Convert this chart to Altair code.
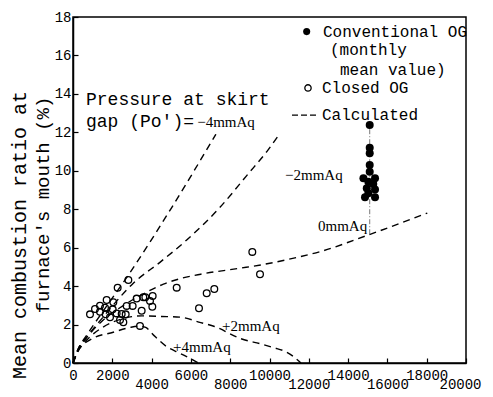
import altair as alt
import pandas as pd

# ---- data ----
# Closed OG (open circles)
closed_x = [865, 1120, 1374, 1374, 1628, 1713, 1662, 1883, 2053, 2019, 2222, 2273,
            2392, 2477, 2562, 2681, 2817, 2731, 3036, 3240, 3494, 3410, 3579, 3681,
            3919, 4054, 4037, 5277, 6412, 6804, 7191, 9125, 9517]
closed_y = [2.53, 2.81, 2.98, 2.67, 2.88, 3.28, 2.53, 2.38, 3.16, 2.79, 2.58, 3.92,
            2.24, 2.55, 2.12, 2.53, 4.32, 2.97, 2.97, 3.35, 2.72, 1.93, 3.42, 3.42,
            3.23, 3.49, 2.93, 3.92, 2.85, 3.63, 3.85, 5.78, 4.62]

# Conventional OG (monthly mean value, filled dots)
conv_x = [15100, 15100, 15100, 15100, 15100, 14780, 15370, 15030, 15280, 14950,
          15370, 15030, 14860, 15370]
conv_y = [12.38, 11.2, 10.91, 10.3, 9.95, 9.61, 9.61, 9.43, 9.31, 9.09, 9.03,
          8.83, 8.62, 8.62]

# Calculated curves, Po' = -4, -2, 0, +2, +4 mmAq
m4_x = [0, 250, 700, 1500, 2800, 5000, 7270]
m4_y = [0, 0.7, 1.45, 2.65, 4.55, 8.05, 11.9]
m2_x = [0, 250, 700, 1500, 3069, 4500, 5786, 7481, 8840, 9939, 10534]
m2_y = [0, 0.7, 1.35, 2.35, 4.15, 5.3, 6.4, 8.1, 9.75, 11.1, 11.95]
z0_x = [0, 300, 800, 1500, 2500, 3500, 4600, 5500, 6500, 8500, 9550, 11000, 12600, 15000, 18030]
z0_y = [0, 0.75, 1.45, 2.2, 2.95, 3.55, 4.1, 4.4, 4.62, 4.93, 5.1, 5.4, 5.8, 6.65, 7.8]
p2_x = [0, 300, 800, 1500, 2500, 3500, 4500, 5500, 6500, 7200, 8500, 9600, 10200, 10800, 11200, 11600]
p2_y = [0, 0.7, 1.3, 1.85, 2.3, 2.45, 2.42, 2.38, 2.1, 1.9, 1.28, 0.98, 0.8, 0.6, 0.35, 0]
p4_x = [0, 250, 950, 2050, 2900, 3400, 3700, 4100, 4770, 5450, 6100, 6380]
p4_y = [0, 0.6, 1.25, 1.6, 1.85, 1.92, 1.85, 1.45, 0.85, 0.5, 0.16, 0]

# vertical guide through the conventional OG values
guide_x = [15100]
guide_y1 = [6.7]
guide_y2 = [12.38]

x_ticks = list(range(0, 20001, 2000))
y_ticks = list(range(0, 19, 2))

# ---- tables ----
closed_df = pd.DataFrame({"x": closed_x, "y": closed_y})
conv_df = pd.DataFrame({"x": conv_x, "y": conv_y})
rows = []
for name, xs_, ys_ in [("-4", m4_x, m4_y), ("-2", m2_x, m2_y), ("0", z0_x, z0_y),
                       ("+2", p2_x, p2_y), ("+4", p4_x, p4_y)]:
    for i, (a, b) in enumerate(zip(xs_, ys_)):
        rows.append({"x": a, "y": b, "s": name, "i": i})
lines_df = pd.DataFrame(rows)
guide_df = pd.DataFrame({"x": guide_x, "y": guide_y1, "y2": guide_y2})

MONO = "Liberation Mono"
SERIF = "Liberation Serif"

xscale = alt.Scale(domain=[0, 20000], nice=False)
yscale = alt.Scale(domain=[0, 18], nice=False)

xaxis = alt.Axis(values=x_ticks, title=None, grid=False, format="d", tickSize={"expr": "-5"},
                 tickColor="black", tickWidth=1.2, domainColor="black", domainWidth=1.5,
                 labelFont=MONO, labelFontSize=14, labelColor="black",
                 labelFlush=False, labelOverlap=False,
                 labelOffset={"condition": {"test": "datum.value == 20000", "value": -6}, "value": 0},
                 labelPadding={"condition": {"test": "datum.value >= 4000 && datum.value % 4000 == 0",
                                             "value": 19}, "value": 10})
yaxis = alt.Axis(values=y_ticks, title=None, grid=False, format="d", tickSize={"expr": "-5"},
                 tickColor="black", tickWidth=1.2, domainColor="black", domainWidth=1.5,
                 labelFont=MONO, labelFontSize=14, labelColor="black",
                 labelFlush=False, labelOverlap=False, labelPadding=7)


def X(field="x"):
    return alt.X(f"{field}:Q", scale=xscale, axis=xaxis)


def Y(field="y"):
    return alt.Y(f"{field}:Q", scale=yscale, axis=yaxis)


lines = alt.Chart(lines_df).mark_line(
    color="black", strokeDash=[7, 5], strokeWidth=1.4, interpolate="monotone"
).encode(x=X(), y=Y(), detail="s:N", order="i:Q")

guide = alt.Chart(guide_df).mark_rule(
    color="#555555", strokeWidth=0.8, strokeDash=[5, 2, 1, 2]
).encode(x=X(), y=Y(), y2="y2:Q")

closed_pts = alt.Chart(closed_df).mark_point(
    shape="circle", filled=False, color="black", size=45, strokeWidth=1.3, opacity=1
).encode(x=X(), y=Y())

conv_pts = alt.Chart(conv_df).mark_point(
    shape="circle", filled=True, color="black", size=64, opacity=1
).encode(x=X(), y=Y())

# legend (inside the plot, in data coordinates)
leg_dot = pd.DataFrame({"x": [11892], "y": [17.24]})
leg_circ = pd.DataFrame({"x": [11959], "y": [14.31]})
leg_dash = pd.DataFrame({"x": [11145], "x2": [12519], "y": [12.9]})
leg_text = pd.DataFrame({
    "x": [12722, 13079, 13588, 12672, 12672],
    "y": [17.24, 16.29, 15.24, 14.31, 12.9],
    "t": ["Conventional OG", "(monthly", "mean value)", "Closed OG", "Calculated"],
})

legend_layers = [
    alt.Chart(leg_dot).mark_point(shape="circle", filled=True, color="black", size=50, opacity=1)
    .encode(x=X(), y=Y()),
    alt.Chart(leg_circ).mark_point(shape="circle", filled=False, color="black", size=40,
                                   strokeWidth=1.3, opacity=1).encode(x=X(), y=Y()),
    alt.Chart(leg_dash).mark_rule(color="black", strokeDash=[6, 3], strokeWidth=1.2)
    .encode(x=X(), x2="x2:Q", y=Y()),
    alt.Chart(leg_text).mark_text(align="left", baseline="middle", font=MONO, fontSize=16,
                                  color="black").encode(x=X(), y=Y(), text="t:N"),
]

# annotations
ann_mono = pd.DataFrame({"x": [662, 662], "y": [13.68, 12.55],
                         "t": ["Pressure at skirt", "gap (Po')="]})
ann_serif = pd.DataFrame({
    "x": [6320, 10790, 12468, 7583, 5089],
    "y": [12.55, 9.78, 7.13, 1.93, 0.83],
    "t": ["\u22124mmAq", "\u22122mmAq", "0mmAq", "+2mmAq", "+4mmAq"],
})
ann_layers = [
    alt.Chart(ann_mono).mark_text(align="left", baseline="middle", font=MONO, fontSize=18,
                                  color="black").encode(x=X(), y=Y(), text="t:N"),
    alt.Chart(ann_serif).mark_text(align="left", baseline="middle", font=SERIF, fontSize=15,
                                   color="black").encode(x=X(), y=Y(), text="t:N"),
]

# y-axis title as two rotated lines
ytitle = pd.DataFrame({"t": ["Mean combustion ratio at"]})
ytitle2 = pd.DataFrame({"t": ["furnace's mouth (%)"]})
title_layers = [
    alt.Chart(ytitle).mark_text(angle=270, align="center", baseline="middle", font=MONO,
                                fontSize=20, color="black")
    .encode(x=alt.value(-53), y=alt.value(218), text="t:N"),
    alt.Chart(ytitle2).mark_text(angle=270, align="center", baseline="middle", font=MONO,
                                 fontSize=19, color="black")
    .encode(x=alt.value(-30), y=alt.value(188), text="t:N"),
]

chart = alt.layer(
    lines, guide, closed_pts, conv_pts, *legend_layers, *ann_layers, *title_layers
).properties(
    width=393, height=346,
    autosize=alt.AutoSizeParams(type="none"),
    padding={"left": 65, "top": 9, "right": 19, "bottom": 30},
    background="white",
).configure_view(stroke="black", strokeWidth=1.5)

chart.save("out.html", embed_options={"renderer": "svg", "actions": False})
